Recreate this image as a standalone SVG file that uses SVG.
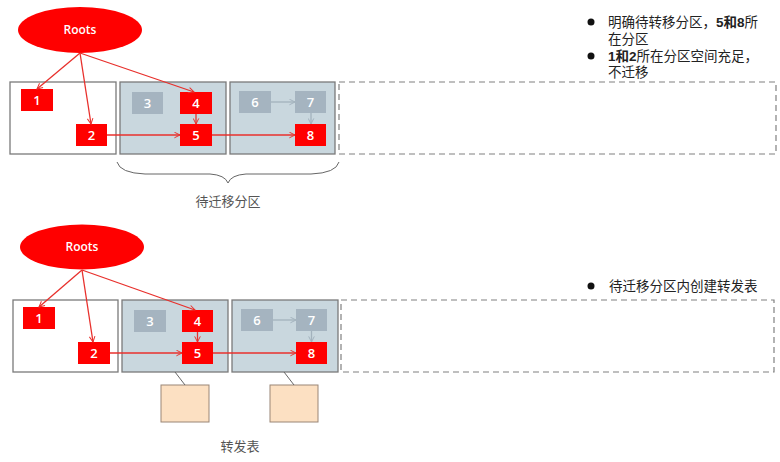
<svg xmlns="http://www.w3.org/2000/svg" width="780" height="462" viewBox="0 0 780 462">
<defs>
<marker id="ar" viewBox="0 0 10 10" refX="9" refY="5" markerWidth="7" markerHeight="7" orient="auto" markerUnits="userSpaceOnUse">
<path d="M1,1 L9,5 L1,9" fill="none" stroke="#E8302C" stroke-width="1.4"/>
</marker>
<marker id="ag" viewBox="0 0 10 10" refX="9" refY="5" markerWidth="7" markerHeight="7" orient="auto" markerUnits="userSpaceOnUse">
<path d="M1,1 L9,5 L1,9" fill="none" stroke="#A3B2BD" stroke-width="1.4"/>
</marker>
</defs>
<style>
.part{fill:#C9D7DE;stroke:#7A7A7A;stroke-width:1.3}
.pw{fill:#FFFFFF;stroke:#7A7A7A;stroke-width:1.3}
.dash{fill:none;stroke:#808080;stroke-width:1.2;stroke-dasharray:6,4}
.r{fill:#FF0000}
.g{fill:#A5B4C0}
.nt{font-family:"Open Sans","Liberation Sans",Arial,sans-serif;font-size:13px;font-weight:600;fill:#FFFFFF;text-anchor:middle}
.rt{font-family:"Open Sans","Liberation Sans",Arial,sans-serif;font-size:12px;font-weight:600;fill:#FFFFFF;text-anchor:middle}
.ell{fill:#FF0000}
.cr{fill:none;stroke:#E8302C;stroke-width:1.3}
.cg{fill:none;stroke:#A3B2BD;stroke-width:1.3}
.lbl{font-family:"Liberation Sans","Noto Sans CJK SC",sans-serif;font-size:13px;fill:#555555;text-anchor:middle}
.bt{font-family:"Liberation Sans","Noto Sans CJK SC",sans-serif;font-size:13.5px;fill:#222222}
.ft{fill:#FCE0C2;stroke:#9A8676;stroke-width:1}
.thin{fill:none;stroke:#666666;stroke-width:1}
</style>

<!-- TOP PANEL -->
<g id="partitions-top">
<rect class="pw" x="10" y="82" width="106" height="72"/>
<rect class="part" x="120" y="82" width="106" height="72"/>
<rect class="part" x="230" y="82" width="105" height="72"/>
<rect class="dash" x="339" y="82" width="437" height="72"/>
</g>
<g id="roots-top"><ellipse class="ell" cx="80" cy="30" rx="62" ry="23"/><text class="rt" x="80" y="34">Roots</text></g>
<g id="t1"><rect class="r" x="21" y="89" width="32" height="22"/><text class="nt" x="37" y="105">1</text></g>
<g id="t2"><rect class="r" x="76" y="124" width="31" height="22"/><text class="nt" x="91.5" y="140">2</text></g>
<g id="t3"><rect class="g" x="132" y="92" width="31" height="22"/><text class="nt" x="147.5" y="108">3</text></g>
<g id="t4"><rect class="r" x="180" y="92" width="32" height="22"/><text class="nt" x="196" y="108">4</text></g>
<g id="t5"><rect class="r" x="180" y="124" width="32" height="22"/><text class="nt" x="196" y="140">5</text></g>
<g id="t6"><rect class="g" x="239" y="91" width="32" height="22"/><text class="nt" x="255" y="107">6</text></g>
<g id="t7"><rect class="g" x="295" y="91" width="31" height="22"/><text class="nt" x="310.5" y="107">7</text></g>
<g id="t8"><rect class="r" x="295" y="124" width="31" height="22"/><text class="nt" x="310.5" y="140">8</text></g>
<g id="connectors-top">
<line class="cr" x1="80" y1="53" x2="37" y2="89" marker-end="url(#ar)"/>
<line class="cr" x1="80" y1="53" x2="91" y2="124" marker-end="url(#ar)"/>
<line class="cr" x1="80" y1="53" x2="194" y2="92" marker-end="url(#ar)"/>
<line class="cr" x1="107" y1="135" x2="180" y2="135" marker-end="url(#ar)"/>
<line class="cr" x1="212" y1="135" x2="295" y2="135" marker-end="url(#ar)"/>
<line class="cr" x1="196" y1="114" x2="196" y2="124" marker-end="url(#ar)"/>
<line class="cg" x1="271" y1="102" x2="295" y2="102" marker-end="url(#ag)"/>
<line class="cg" x1="311" y1="113" x2="311" y2="124" marker-end="url(#ag)"/>
</g>
<g id="brace">
<path d="M117,162 Q120,173 145,174 L210,174 Q225,175 228,183 Q231,175 246,174 L311,174 Q336,173 339,162" fill="none" stroke="#666666" stroke-width="1"/>
<text class="lbl" x="228" y="206">待迁移分区</text>
</g>
<g id="notes-top">
<circle cx="591" cy="22" r="3.5" fill="#111111"/>
<text class="bt" x="608" y="27">明确待转移分区，<tspan font-weight="bold">5和8</tspan>所</text>
<text class="bt" x="608" y="44">在分区</text>
<circle cx="591" cy="56" r="3.5" fill="#111111"/>
<text class="bt" x="608" y="61"><tspan font-weight="bold">1和2</tspan>所在分区空间充足，</text>
<text class="bt" x="608" y="77">不迁移</text>
</g>

<!-- BOTTOM PANEL -->
<g id="partitions-bottom">
<rect class="pw" x="13" y="300" width="105" height="72"/>
<rect class="part" x="122" y="300" width="106" height="72"/>
<rect class="part" x="232" y="300" width="106" height="72"/>
<rect class="dash" x="341" y="300" width="433" height="72"/>
</g>
<g id="roots-bottom"><ellipse class="ell" cx="82" cy="247" rx="62" ry="22.5"/><text class="rt" x="82" y="251">Roots</text></g>
<g id="b1"><rect class="r" x="23" y="307" width="32" height="22"/><text class="nt" x="39" y="323">1</text></g>
<g id="b2"><rect class="r" x="78" y="342" width="32" height="22"/><text class="nt" x="94" y="358">2</text></g>
<g id="b3"><rect class="g" x="134" y="310" width="32" height="22"/><text class="nt" x="150" y="326">3</text></g>
<g id="b4"><rect class="r" x="182" y="310" width="31" height="22"/><text class="nt" x="197.5" y="326">4</text></g>
<g id="b5"><rect class="r" x="182" y="342" width="31" height="22"/><text class="nt" x="197.5" y="358">5</text></g>
<g id="b6"><rect class="g" x="241" y="309" width="32" height="22"/><text class="nt" x="257" y="325">6</text></g>
<g id="b7"><rect class="g" x="296" y="309" width="31" height="22"/><text class="nt" x="311.5" y="325">7</text></g>
<g id="b8"><rect class="r" x="296" y="342" width="31" height="22"/><text class="nt" x="311.5" y="358">8</text></g>
<g id="ft1"><rect class="ft" x="161" y="385" width="48" height="37"/></g>
<g id="ft2"><rect class="ft" x="270" y="385" width="48" height="37"/></g>
<g id="connectors-bottom">
<line class="cr" x1="82" y1="270" x2="39" y2="307" marker-end="url(#ar)"/>
<line class="cr" x1="82" y1="270" x2="93" y2="342" marker-end="url(#ar)"/>
<line class="cr" x1="82" y1="270" x2="195" y2="310" marker-end="url(#ar)"/>
<line class="cr" x1="110" y1="353" x2="182" y2="353" marker-end="url(#ar)"/>
<line class="cr" x1="213" y1="353" x2="296" y2="353" marker-end="url(#ar)"/>
<line class="cr" x1="197.5" y1="332" x2="197.5" y2="342" marker-end="url(#ar)"/>
<line class="cg" x1="273" y1="320" x2="296" y2="320" marker-end="url(#ag)"/>
<line class="cg" x1="311.5" y1="331" x2="311.5" y2="342" marker-end="url(#ag)"/>
<line class="thin" x1="175" y1="372" x2="185" y2="385"/>
<line class="thin" x1="284" y1="372" x2="294" y2="385"/>
</g>
<text class="lbl" x="240" y="451">转发表</text>
<g id="notes-bottom">
<circle cx="591" cy="286" r="3.5" fill="#111111"/>
<text class="bt" x="609" y="291">待迁移分区内创建转发表</text>
</g>
</svg>
